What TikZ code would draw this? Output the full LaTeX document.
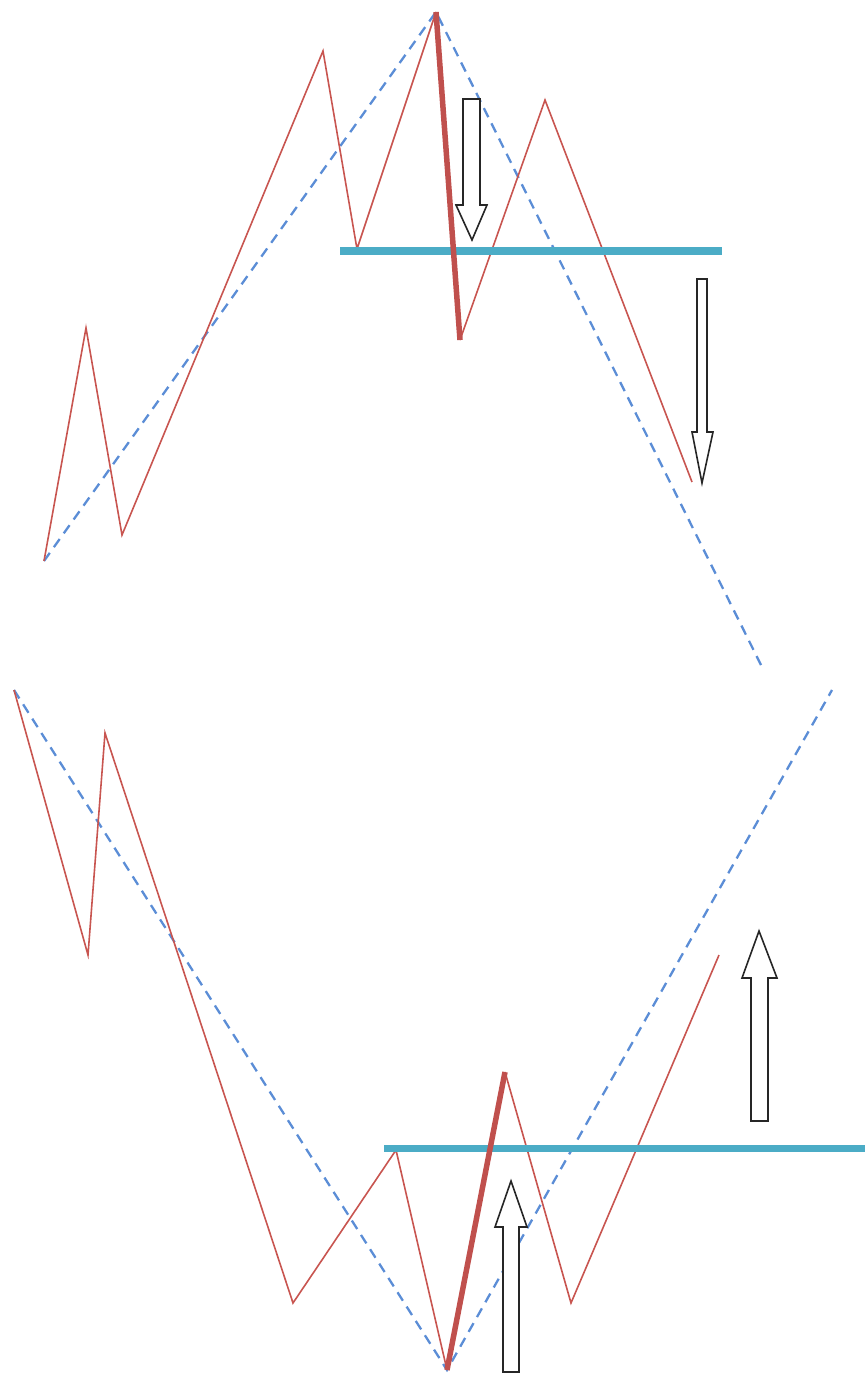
\documentclass[tikz,border=0pt]{standalone}
\begin{document}
\begin{tikzpicture}[x=1pt,y=-1pt,
  redline/.style={draw={rgb,255:red,200;green,85;blue,80},line width=1.6pt,line join=miter},
  redthick/.style={draw={rgb,255:red,192;green,80;blue,77},line width=5.5pt},
  bluedash/.style={draw={rgb,255:red,91;green,141;blue,214},line width=2.3pt,dash pattern=on 10pt off 7pt},
  cyanbar/.style={draw={rgb,255:red,75;green,172;blue,198},line width=7pt},
  blockarrow/.style={draw=black!85,line width=1.6pt,fill=white,line join=miter}]
\useasboundingbox (0,0) rectangle (865,1380);
% ---------- top half ----------
\draw[bluedash] (44,561) -- (436,12) -- (762,667);
\draw[redline] (44,561) -- (86,328) -- (122,535) -- (323,51) -- (357,249) -- (436,12);
\draw[redline] (460,340) -- (545,100) -- (692,482);
\draw[cyanbar] (340,251) -- (722,251);
\draw[redthick] (436,12) -- (460,340);
\draw[blockarrow] (463,99) -- (480,99) -- (480,205) -- (487,205) -- (472,240) -- (456,205) -- (463,205) -- cycle;
\draw[blockarrow] (697,279) -- (707,279) -- (707,432) -- (713,432) -- (702,483) -- (692,432) -- (697,432) -- cycle;
% ---------- bottom half ----------
\draw[bluedash] (14,690) -- (447,1370) -- (832,690);
\draw[redline] (14,690) -- (88,955) -- (105,733) -- (293,1303) -- (396,1150) -- (447,1370);
\draw[redline] (505,1072) -- (571,1303) -- (719,955);
\draw[cyanbar] (384,1148) -- (865,1148);
\draw[redthick] (447,1370) -- (505,1072);
\draw[blockarrow] (503,1372) -- (519,1372) -- (519,1227) -- (527,1227) -- (511,1181) -- (495,1227) -- (503,1227) -- cycle;
\draw[blockarrow] (751,1121) -- (768,1121) -- (768,978) -- (777,978) -- (759,931) -- (742,978) -- (751,978) -- cycle;
\end{tikzpicture}
\end{document}
